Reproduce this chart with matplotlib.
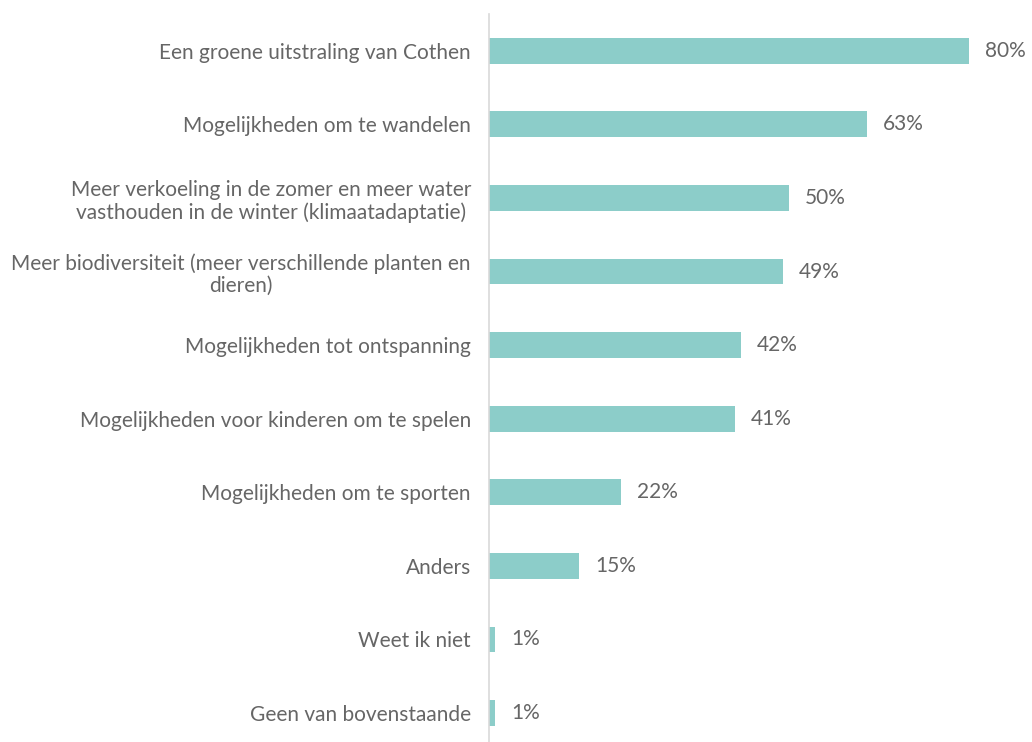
import matplotlib
matplotlib.use("Agg")
import matplotlib.pyplot as plt

categories = [
    "Een groene uitstraling van Cothen",
    "Mogelijkheden om te wandelen",
    "Meer verkoeling in de zomer en meer water\nvasthouden in de winter (klimaatadaptatie)",
    "Meer biodiversiteit (meer verschillende planten en\ndieren)",
    "Mogelijkheden tot ontspanning",
    "Mogelijkheden voor kinderen om te spelen",
    "Mogelijkheden om te sporten",
    "Anders",
    "Weet ik niet",
    "Geen van bovenstaande",
]
values = [80, 63, 50, 49, 42, 41, 22, 15, 1, 1]

W, H = 1032, 742
fig = plt.figure(figsize=(W / 100, H / 100), dpi=100)
ax = fig.add_axes([489 / W, 0, 1 - 489 / W, 1 - 14 / H])

bar_color = "#8ccdc9"
text_color = "#666666"
font = "Lato"
fs = 15

y = list(range(len(categories)))
ax.barh(y, values, height=0.35, color=bar_color)
ax.set_xlim(0, (W - 489) / 6)
ax.set_ylim(9 + (742 - 713) / 73.6, -0.5)

for yi, v in zip(y, values):
    ax.text(v + 2.7, yi, f"{v}%", va="center", ha="left", fontsize=fs,
            color=text_color, family=font)

ax.set_yticks(y)
ax.set_yticklabels(categories, fontsize=fs, color=text_color, family=font,
                   linespacing=1.15)
for lab in ax.get_yticklabels():
    lab.set_multialignment("center")
ax.tick_params(axis="y", length=0, pad=13)
ax.set_xticks([])
for s in ["top", "right", "bottom"]:
    ax.spines[s].set_visible(False)
ax.spines["left"].set_color("#d9d9d9")
ax.spines["left"].set_linewidth(1.2)

fig.savefig("out.png", dpi=100)
